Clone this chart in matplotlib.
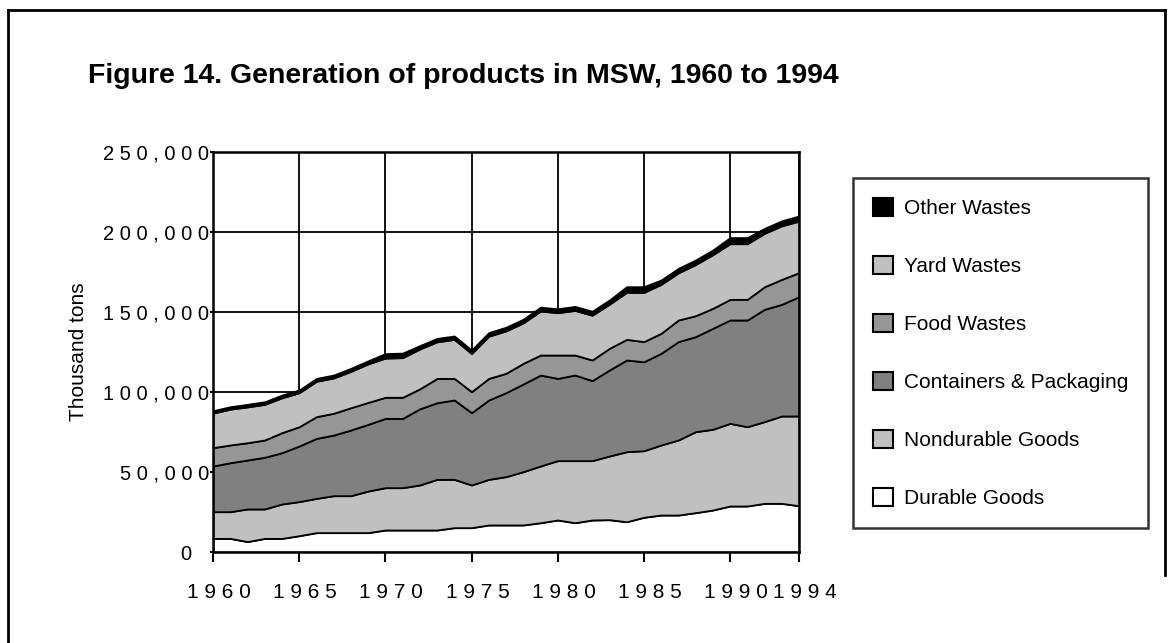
import numpy as np
import matplotlib
matplotlib.use('Agg')
import matplotlib.pyplot as plt
import matplotlib.transforms as mtransforms
from matplotlib.patches import Patch
from matplotlib.lines import Line2D

plt.rcParams['font.family'] = ['Liberation Sans', 'DejaVu Sans']

years = list(range(1960, 1995))

# thousand tons
durable = [8500, 8500, 6500, 8500, 8500, 10200, 12100, 12100, 12100, 12100,
           13750, 13750, 13750, 13750, 15200, 15200, 16900, 16900, 16900, 18300,
           20000, 18300, 20000, 20200, 18900, 21700, 23100, 23100, 24600, 26250,
           28750, 28750, 30400, 30400, 28900]
nondurable = [16700, 16700, 20400, 18400, 21500, 21300, 21400, 23100, 23100, 26000,
              26450, 26450, 28150, 31650, 30200, 26700, 28500, 30200, 33300, 35450,
              37100, 38800, 37100, 39800, 43800, 41600, 43800, 46900, 50600, 50450,
              51650, 49550, 51100, 54600, 56100]
containers = [28550, 30600, 30600, 32300, 32100, 34750, 37500, 37900, 41050, 41700,
              43300, 43300, 47600, 47900, 49600, 45200, 49600, 52500, 54800, 56850,
              51400, 53500, 50000, 53750, 57300, 55600, 57300, 61500, 59400, 63100,
              64600, 66700, 70200, 69800, 74600]
food = [11450, 11100, 10800, 10800, 12500, 12050, 13600, 13600, 13950, 13700,
        13200, 13200, 12500, 15200, 13500, 13100, 13500, 12100, 12900, 12500,
        14600, 12500, 12900, 13550, 12900, 12600, 12500, 13500, 13100, 12500,
        12900, 12900, 14100, 15600, 15000]
yard = [21600, 22400, 22400, 22300, 21800, 21250, 22100, 22100, 22700, 24100,
        24500, 24800, 24900, 22900, 24400, 23850, 26400, 26500, 25300, 27500,
        26500, 27900, 28000, 27600, 29400, 30800, 30600, 29500, 32000, 33550,
        34800, 34800, 33400, 33500, 32200]
other = [1500, 1500, 1600, 1600, 1700, 1700, 1800, 1800, 1900, 1900,
         2800, 2800, 2100, 2100, 2100, 2200, 2200, 2300, 2300, 2400,
         2400, 2500, 2500, 2600, 3500, 3500, 2700, 2800, 2800, 2900,
         3800, 3800, 3100, 3100, 3200]

labels = ['Durable Goods', 'Nondurable Goods', 'Containers & Packaging',
          'Food Wastes', 'Yard Wastes', 'Other Wastes']
colors = ['#ffffff', '#c0c0c0', '#808080', '#969696', '#c0c0c0', '#000000']

W, H = 1173, 643
fig = plt.figure(figsize=(W / 100, H / 100), dpi=100)
ax = fig.add_axes([213 / W, 1 - 552 / H, (799 - 213) / W, (552 - 152) / H])

ax.stackplot(years, durable, nondurable, containers, food, yard, other,
             colors=colors, edgecolor='black', linewidth=1.3, zorder=3)

ax.set_xlim(1960, 1994)
ax.set_ylim(0, 250000)
ax.set_axisbelow(True)

xt = [1960, 1965, 1970, 1975, 1980, 1985, 1990, 1994]
yt = [0, 50000, 100000, 150000, 200000, 250000]


def spaced(s):
    return ' '.join(s)


ylabels = [spaced(f'{v:,}') for v in yt]
ylabels[0] = '0   '
ax.set_xticks(xt)
ax.set_xticklabels([spaced(str(v)) for v in xt], fontsize=15)
ax.set_yticks(yt)
ax.set_yticklabels(ylabels, fontsize=14.5)
ax.tick_params(axis='x', length=7, width=1.5, pad=15, color='black')
ax.tick_params(axis='y', length=2, width=1.5, pad=1, color='black')
shift = mtransforms.ScaledTranslation(6 / 100, 0, fig.dpi_scale_trans)
for lab in ax.get_xticklabels():
    lab.set_transform(lab.get_transform() + shift)
ax.grid(True, color='black', linewidth=1.3, zorder=0)
for sp in ax.spines.values():
    sp.set_linewidth(1.8)
    sp.set_zorder(5)

ax.set_ylabel('Thousand tons', fontsize=15, labelpad=11)

fig.text(88 / W, 1 - 83 / H, 'Figure 14. Generation of products in MSW, 1960 to 1994',
         fontsize=20.5, fontweight='bold', va='baseline', ha='left')

handles = [Patch(facecolor=c, edgecolor='black', linewidth=1.5)
           for c in colors[::-1]]
leg = fig.legend(handles, labels[::-1], loc='upper left',
                 bbox_to_anchor=(853 / W, 1 - 178 / H), borderaxespad=0,
                 fontsize=15, frameon=True, fancybox=False, edgecolor='black',
                 handlelength=0.95, handleheight=0.95, handletextpad=0.55,
                 labelspacing=1.82, borderpad=0.95)
leg.get_frame().set_linewidth(1.8)

# outer frame
fx = lambda px: px / W
fy = lambda py: 1 - py / H
fig.add_artist(Line2D([fx(8), fx(8)], [fy(10), fy(643)], color='black', linewidth=2))
fig.add_artist(Line2D([fx(8), fx(1165)], [fy(10), fy(10)], color='black', linewidth=2))
fig.add_artist(Line2D([fx(1165), fx(1165)], [fy(10), fy(575)], color='black', linewidth=2))

fig.savefig('out.png', dpi=100)
